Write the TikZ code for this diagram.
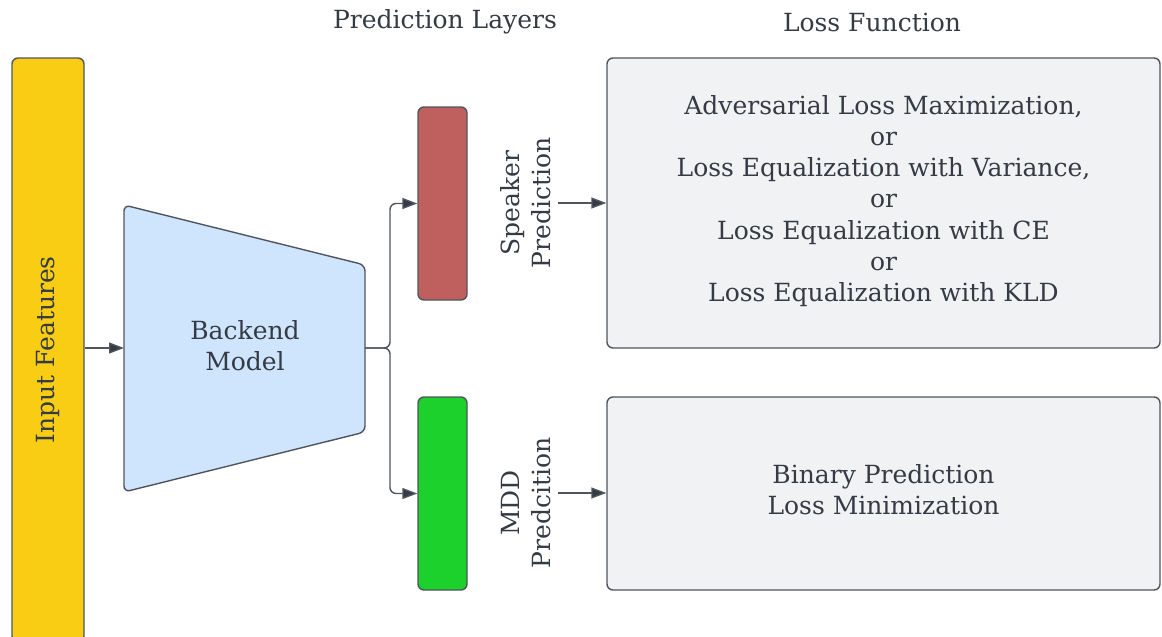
\documentclass[tikz,border=0pt]{standalone}
\usepackage{fontspec}
\setmainfont{DejaVu Serif}
\usetikzlibrary{arrows.meta}
\definecolor{inkc}{HTML}{343B45}
\definecolor{edgec}{HTML}{50555D}
\definecolor{featc}{HTML}{F9CD14}
\definecolor{bkc}{HTML}{CFE4FD}
\definecolor{spkc}{HTML}{C0605E}
\definecolor{mddc}{HTML}{1DD12D}
\definecolor{lossc}{HTML}{F1F2F4}
\tikzset{
  txt/.style={font=\fontsize{25}{31.3}\selectfont, text=inkc, align=center},
  blk/.style={draw=edgec, line width=1.4pt, rounded corners=6pt, inner sep=0pt},
  arr/.style={draw=edgec, line width=1.4pt, -{Triangle[length=15pt,width=11pt,fill=inkc]}},
}
\begin{document}
\begin{tikzpicture}[x=1pt,y=-1pt]
\useasboundingbox (0,0) rectangle (1162,637);
% column titles
\node[txt] (tpred) at (445,22) {Prediction Layers};
\node[txt] (tloss) at (872,22) {Loss Function};
% input features
\node[blk, fill=featc, minimum width=72pt, minimum height=584pt] (feat) at (48,350) {};
\node[txt, rotate=90] at (feat.center) {Input Features};
% backend model (trapezoid)
\coordinate (bkin) at (124,348);
\coordinate (bkout) at (365,348);
\draw[blk, fill=bkc] (124,205) -- (365,265) -- (365,432) -- (124,492) -- cycle;
\node[txt] (bk) at (245,346) {Backend\\Model};
% prediction heads
\node[blk, fill=spkc, minimum width=49pt, minimum height=193pt] (spk) at (442.5,203.5) {};
\node[blk, fill=mddc, minimum width=49pt, minimum height=193pt] (mdd) at (442.5,493.5) {};
\node[txt, rotate=90] (spklab) at (526,203) {Speaker\\Prediction};
\node[txt, rotate=90] (mddlab) at (526,503) {MDD\\Predcition};
% loss boxes
\node[blk, fill=lossc, minimum width=553pt, minimum height=290pt] (loss1) at (883.5,203) {};
\node[txt] at (883.5,201) {Adversarial Loss Maximization,\\or\\Loss Equalization with Variance,\\or\\Loss Equalization with CE\\or\\Loss Equalization with KLD};
\node[blk, fill=lossc, minimum width=553pt, minimum height=193pt] (loss2) at (883.5,493.5) {};
\node[txt] at (883.5,490) {Binary Prediction\\Loss Minimization};
% connectors
\draw[arr] (feat.east |- bkin) -- (bkin);
\draw[arr, rounded corners=6pt] (bkout) -- (390,348) |- (spk.west);
\draw[arr, rounded corners=6pt] (bkout) -- (390,348) |- (mdd.west);
\draw[arr] (558,203) -- (loss1.west |- spklab);
\draw[arr] (558,493) -- (loss2.west |- 0,493);
\end{tikzpicture}
\end{document}
